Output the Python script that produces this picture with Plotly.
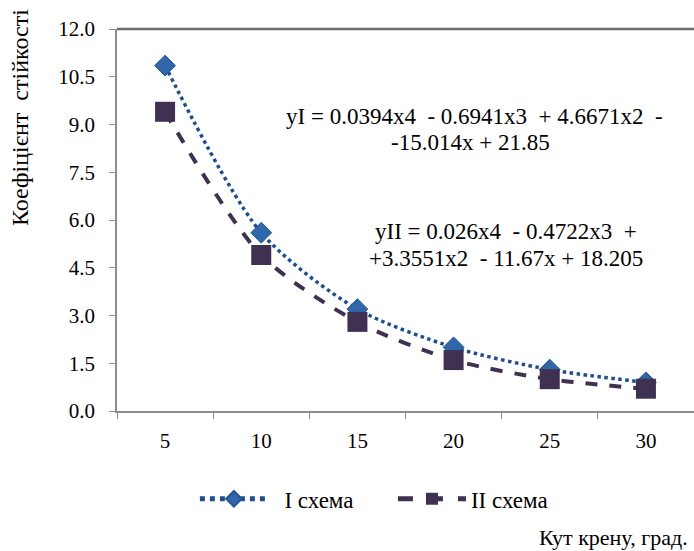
import plotly.graph_objects as go

categories = ["5", "10", "15", "20", "25", "30"]
series_I = [10.85, 5.6, 3.2, 2.0, 1.3, 0.9]
series_II = [9.4, 4.9, 2.8, 1.6, 1.0, 0.7]
y_ticks = [0, 1.5, 3.0, 4.5, 6.0, 7.5, 9.0, 10.5, 12.0]
names = ["I схема", "II схема"]

FONT = "Liberation Serif"
NB = "\u00a0"

fig = go.Figure()
fig.add_trace(go.Scatter(
    x=categories, y=series_I, name=NB * 2 + names[0] + NB * 6, mode="lines+markers",
    line=dict(color="#1F4E8C", width=3.5, dash="dot", shape="spline", smoothing=0.8),
    marker=dict(symbol="diamond", size=16, color="#2F67AA",
                line=dict(color="#24578F", width=1)),
))
fig.add_trace(go.Scatter(
    x=categories, y=series_II, name=names[1], mode="lines+markers",
    line=dict(color="#3F3151", width=4, dash="dash", shape="spline", smoothing=0.8),
    marker=dict(symbol="square", size=20, color="#3F3151"),
))

fig.update_layout(
    width=694, height=551,
    margin=dict(l=117, r=0, t=29, b=140),
    paper_bgcolor="white", plot_bgcolor="white",
    font=dict(family=FONT, size=21, color="black"),
    showlegend=True,
    legend=dict(orientation="h", x=0.135, xanchor="left", y=-0.23, yanchor="middle",
                font=dict(family=FONT, size=23), itemwidth=68, tracegroupgap=0,
                itemsizing="constant"),
    xaxis=dict(type="category", range=[-0.5, 5.5], showgrid=False, showline=True,
               linecolor="#8C8C8C", linewidth=1.5, ticks="outside", tickson="boundaries",
               ticklen=6, tickcolor="#8C8C8C", tickfont=dict(family=FONT, size=21),
               zeroline=False, fixedrange=True, ticklabelstandoff=10),
    yaxis=dict(range=[0, 12], tickvals=y_ticks, tickformat=".1f", showgrid=False,
               showline=True, linecolor="#8C8C8C", linewidth=1.5, ticks="outside",
               ticklen=6, tickcolor="#8C8C8C", tickfont=dict(family=FONT, size=21),
               zeroline=False, ticklabelstandoff=10),
)

fig.add_shape(type="line", xref="paper", yref="paper", x0=0, x1=1, y0=1, y1=1,
              line=dict(color="#6E6E6E", width=2.5))

def note(text, x, y, size=23, xanchor="center", angle=0):
    fig.add_annotation(text=text, xref="paper", yref="paper", x=x, y=y,
                       textangle=angle, showarrow=False, xanchor=xanchor,
                       yanchor="middle", font=dict(family=FONT, size=size))

note("Коефіцієнт  стійкості", -0.168, 0.767, size=24, angle=-90)
note("Кут крену, град.", 0.993, -0.332, size=22, xanchor="right")
note("yI = 0.0394x4  - 0.6941x3  + 4.6671x2  -", 0.619, 0.770)
note("-15.014x + 21.85", 0.612, 0.704)
note("yII = 0.026x4  - 0.4722x3  +", 0.674, 0.469)
note("+3.3551x2  - 11.67x + 18.205", 0.674, 0.400)

fig.write_html("out.html", post_script="document.body.style.margin='0';",
               config={"displayModeBar": False})
